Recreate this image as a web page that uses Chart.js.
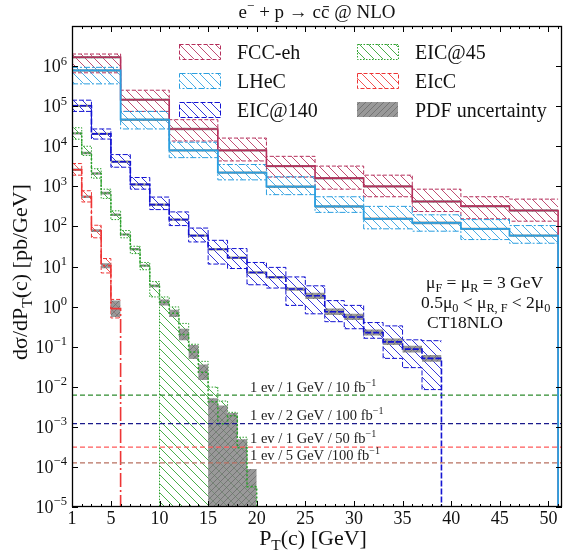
<!DOCTYPE html>
<html><head><meta charset="utf-8">
<script src="https://cdn.jsdelivr.net/npm/chart.js@4.4.1/dist/chart.umd.min.js"></script>
<style>html,body{margin:0;padding:0;background:#fff;overflow:hidden}</style>
</head><body>
<canvas id="c" width="563" height="551" style="width:563px;height:551px;display:block"></canvas>
<script>
// ---------------- DATA ----------------
const fccEdges = [1,6,11,16,21,26,31,36,41,46,51];
const fccCenter = [1.66e6,1.45e5,2.7e4,7.9e3,3.2e3,1.6e3,1.0e3,420,320,250];
const fccScaleHi = [2.0e6,2.5e5,4.6e4,1.6e4,5.6e3,3.2e3,1.9e3,850,550,480];
const fccScaleLo = [6.8e5,7.4e4,1.35e4,4.3e3,1.7e3,850,550,235,155,135];
const fccPdfHi = [1.78e6,1.55e5,2.9e4,8.45e3,3.42e3,1.71e3,1070,450,342,268];
const fccPdfLo = [1.55e6,1.35e5,2.5e4,7.35e3,2.98e3,1.49e3,930,390,298,232];

const lhecEdges = [1,6,11,16,21,26,31,36,41,46,51];
const lhecCenter = [7.8e5,4.6e4,7.9e3,2.2e3,980,316,155,123,87,59];
const lhecScaleHi = [9.3e5,7.4e4,1.26e4,3.5e3,1.74e3,550,316,195,148,105];
const lhecScaleLo = [3.6e5,2.7e4,5.2e3,1.45e3,620,224,87,76,47,38];
const lhecPdfHi = [8.35e5,4.92e4,8.45e3,2.35e3,1050,338,166,132,93,63];
const lhecPdfLo = [7.25e5,4.28e4,7.35e3,2.05e3,910,294,144,114,81,55];

const eic140Edges = [1,3,5,7,9,11,13,15,17,19,21,23,25,27,29,31,33,35,37,39];
const eic140Center = [1.02e5,2.04e4,4.1e3,1.12e3,350,148,59,27,16.6,7.1,5.4,2.75,1.86,0.74,0.55,0.224,0.132,0.087,0.051];
const eic140ScaleHi = [1.41e5,2.7e4,6.2e3,1.66e3,540,230,91,45,28,12.6,9.5,5.5,3.3,1.41,1.07,0.40,0.33,0.148,0.141];
const eic140ScaleLo = [7.4e4,1.51e4,3.0e3,850,263,105,41,11.5,8.9,3.5,2.9,1.07,0.66,0.42,0.28,0.162,0.051,0.030,0.0085];
const eic140PdfHi = [1.09e5,2.18e4,4.4e3,1.2e3,375,158,63,29,17.8,7.6,5.8,3.0,2.2,0.89,0.66,0.27,0.16,0.105,0.062];
const eic140PdfLo = [9.5e4,1.9e4,3.8e3,1.04e3,325,138,55,25,15.4,6.6,5.0,2.5,1.55,0.62,0.46,0.19,0.11,0.072,0.042];

const eic45Edges = [1,2,3,4,5,6,7,8,9,10,11,12,13,14,15,16,17,18,19,20];
const eic45Center = [2.1e4,6.8e3,2.1e3,680,195,63,27,10.5,3.3,1.29,0.68,0.20,0.074,0.023,0.0042,0.0012,0.0019,3.0e-4,3.2e-5];
const eic45ScaleHi = [2.9e4,1.0e4,2.75e3,850,245,79,32,12.6,4.2,1.74,0.98,0.38,0.115,0.043,0.0098,0.0044,0.0023,5.5e-4,3.5e-5];
const eic45ScaleLo = [1.5e4,5.9e3,1.6e3,500,148,52,21,8.3,1.74,1e-7,1e-7,1e-7,1e-7,1e-7,1e-7,1e-7,1e-7,1e-7,1e-7];
const eic45PdfHi = [2.25e4,7.3e3,2.25e3,730,209,67,29,11.2,3.55,1.51,0.83,0.28,0.11,0.036,0.0052,0.0034,0.0022,4.9e-4,8.9e-5];
const eic45PdfLo = [1.95e4,6.3e3,1.95e3,630,181,59,25,9.8,3.05,1.07,0.55,0.145,0.049,0.0148,1e-7,1e-7,1e-7,1e-7,1e-7];

const eiccEdges = [1,2,3,4,5,6];
const eiccCenter = [2.6e3,550,79,10.5,0.89];
const eiccScaleHi = [3.7e3,776,107,15.8,1.51];
const eiccScaleLo = [1.9e3,407,52,6.9,0.52];
const eiccPdfHi = [2.8e3,590,85,12.1,1.41];
const eiccPdfLo = [2.42e3,510,73,9.1,0.55];

const limitValues = [6.2e-3, 1.2e-3, 3.1e-4, 1.26e-4];
const limitLabels = ['1 ev / 1 GeV / 10 fb', '1 ev / 2 GeV / 100 fb', '1 ev / 1 GeV / 50 fb', '1 ev / 5 GeV /100 fb'];

const xTickLabels = [1,5,10,15,20,25,30,35,40,45,50];
const yTickExponents = [-5,-4,-3,-2,-1,0,1,2,3,4,5,6];
const seriesNames = ['FCC-eh','LHeC','EIC@140','EIC@45','EIcC'];

// ---------------- STYLE ----------------
const FONT = '"Liberation Serif","Times New Roman",serif';
const canvas = document.getElementById('c');
const mctx = canvas.getContext('2d');

function hatch(color, dir, bg, s, lw) {
  const c = document.createElement('canvas'); c.width = s; c.height = s;
  const g = c.getContext('2d');
  if (bg) { g.fillStyle = bg; g.fillRect(0,0,s,s); }
  g.strokeStyle = color; g.lineWidth = lw; g.beginPath();
  if (dir === '\\') {
    g.moveTo(-2,-2); g.lineTo(s+2,s+2);
    g.moveTo(-2,s-2); g.lineTo(2,s+2);
    g.moveTo(s-2,-2); g.lineTo(s+2,2);
  } else {
    g.moveTo(-2,s+2); g.lineTo(s+2,-2);
    g.moveTo(-2,2); g.lineTo(2,-2);
    g.moveTo(s-2,s+2); g.lineTo(s+2,s-2);
  }
  g.stroke();
  return mctx.createPattern(c, 'repeat');
}

const styles = [
  {color:'#b5305c', hatchColor:'rgba(181,48,92,0.85)', bandDash:[4,2], lineDash:[], lw:1.6, order:1},
  {color:'#2b9fe0', hatchColor:'rgba(43,159,224,0.85)', bandDash:[6,2,2,2], lineDash:[], lw:1.8, order:0.9},
  {color:'#1414d2', hatchColor:'rgba(20,20,210,0.85)', bandDash:[5,2], lineDash:[6,2], lw:1.6, order:1},
  {color:'#2ca02c', hatchColor:'rgba(44,160,44,0.85)', bandDash:[1.5,1.5], lineDash:[2,2], lw:1.5, order:1},
  {color:'#ee3535', hatchColor:'rgba(238,53,53,0.85)', bandDash:[4,2], lineDash:[14,3,2,3], lw:1.6, order:1}
];
const grayPattern = hatch('rgba(105,105,105,0.75)', '/', 'rgba(130,130,130,0.82)', 6, 1);
const limitColors = ['#2e8b2e', '#1a1a8c', '#ff5a5a', '#b87060'];

const series = [
  {edges:fccEdges, c:fccCenter, hi:fccScaleHi, lo:fccScaleLo, ph:fccPdfHi, pl:fccPdfLo},
  {edges:lhecEdges, c:lhecCenter, hi:lhecScaleHi, lo:lhecScaleLo, ph:lhecPdfHi, pl:lhecPdfLo},
  {edges:eic140Edges, c:eic140Center, hi:eic140ScaleHi, lo:eic140ScaleLo, ph:eic140PdfHi, pl:eic140PdfLo},
  {edges:eic45Edges, c:eic45Center, hi:eic45ScaleHi, lo:eic45ScaleLo, ph:eic45PdfHi, pl:eic45PdfLo},
  {edges:eiccEdges, c:eiccCenter, hi:eiccScaleHi, lo:eiccScaleLo, ph:eiccPdfHi, pl:eiccPdfLo}
];

function stepPts(edges, vals, drop) {
  const pts = vals.map((v,i) => ({x: edges[i], y: v}));
  pts.push({x: edges[edges.length-1], y: vals[vals.length-1]});
  if (drop) pts.push({x: edges[edges.length-1], y: 1e-7});
  return pts;
}

const datasets = [];
const base = {pointRadius:0, pointHoverRadius:0, stepped:'before', tension:0};
limitValues.forEach((v,i) => {
  datasets.push({...base, stepped:false, data:[{x:1,y:v},{x:51.4,y:v}], borderColor:limitColors[i],
    borderWidth:1.2, borderDash:[5,3], fill:false, order:0});
});
series.forEach((s,k) => {
  const st = styles[k];
  const pat = hatch(st.hatchColor, '\\', null, 9, 1);
  datasets.push({...base, data:stepPts(s.edges, s.hi), fill:'+1', backgroundColor:pat,
    borderColor:st.color, borderWidth:1, borderDash:st.bandDash, order:4 + (4-k)*0.01});
  datasets.push({...base, data:stepPts(s.edges, s.lo), fill:false,
    borderColor:st.color, borderWidth:1, borderDash:st.bandDash, order:4 + (4-k)*0.01});
  datasets.push({...base, data:stepPts(s.edges, s.ph), fill:'+1', backgroundColor:grayPattern,
    borderColor:'rgba(0,0,0,0)', borderWidth:0.01, order:2});
  datasets.push({...base, data:stepPts(s.edges, s.pl), fill:false,
    borderColor:'rgba(0,0,0,0)', borderWidth:0.01, order:2});
  datasets.push({...base, data:stepPts(s.edges, s.c, true), fill:false,
    borderColor:st.color, borderWidth:st.lw, borderDash:st.lineDash, order:st.order});
});

// ---------------- TEXT HELPERS ----------------
function richWidth(ctx, parts, size) {
  let w = 0;
  for (const [t, m] of parts) {
    ctx.font = (m ? size*0.7 : size) + 'px ' + FONT;
    w += ctx.measureText(t).width;
  }
  return w;
}
function drawRich(ctx, parts, x, y, size, align) {
  const w = richWidth(ctx, parts, size);
  let cx = align === 'center' ? x - w/2 : (align === 'right' ? x - w : x);
  ctx.textBaseline = 'alphabetic'; ctx.textAlign = 'left';
  for (const [t, m] of parts) {
    const sz = m ? size*0.7 : size;
    ctx.font = sz + 'px ' + FONT;
    const dy = m === 1 ? -size*0.42 : (m === -1 ? size*0.22 : 0);
    ctx.fillText(t, cx, y + dy);
    cx += ctx.measureText(t).width;
  }
}

const deco = {
  id: 'deco',
  afterDatasetsDraw(chart) {
    const {ctx, chartArea: a, scales: {x, y}} = chart;
    ctx.save();
    ctx.strokeStyle = '#000'; ctx.lineWidth = 1; ctx.setLineDash([]);
    ctx.beginPath();
    for (let v = 1; v <= 51; v++) {
      const px = Math.round(x.getPixelForValue(v)) + 0.5;
      const L = xTickLabels.includes(v) ? 6 : 3;
      ctx.moveTo(px, a.bottom); ctx.lineTo(px, a.bottom - L);
      ctx.moveTo(px, a.top); ctx.lineTo(px, a.top + L);
    }
    for (const e of yTickExponents) {
      const py = Math.round(y.getPixelForValue(Math.pow(10, e))) + 0.5;
      ctx.moveTo(a.left, py); ctx.lineTo(a.left + 6, py);
      ctx.moveTo(a.right, py); ctx.lineTo(a.right - 6, py);
    }
    ctx.stroke();
    ctx.lineWidth = 1.3;
    ctx.strokeRect(a.left + 0.5, a.top + 0.5, a.right - a.left - 1, a.bottom - a.top - 1);
    ctx.restore();
  },
  afterDraw(chart) {
    const {ctx, chartArea: a, scales: {x, y}} = chart;
    ctx.save();
    ctx.fillStyle = '#111';
    ctx.font = '18px ' + FONT; ctx.textAlign = 'center'; ctx.textBaseline = 'alphabetic';
    for (const v of xTickLabels) ctx.fillText(String(v), x.getPixelForValue(v), 524);
    for (const e of yTickExponents) {
      const py = y.getPixelForValue(Math.pow(10, e));
      drawRich(ctx, [['10',0],[e < 0 ? '\u2212' + (-e) : String(e),1]], 67, py + 6, 18, 'right');
    }
    drawRich(ctx, [['P',0],['T',-1],['(c) [GeV]',0]], 313, 545, 22, 'center');
    ctx.save(); ctx.translate(27, 272); ctx.rotate(-Math.PI/2);
    drawRich(ctx, [['d\u03c3/dP',0],['T',-1],['(c) [pb/GeV]',0]], 0, 0, 22, 'center');
    ctx.restore();
    drawRich(ctx, [['e',0],['\u2212',1],[' + p \u2192 c',0],['c\u0304',0],[' @ NLO',0]], 317, 18, 19, 'center');
    drawRich(ctx, [['\u03bc',0],['F',-1],[' = \u03bc',0],['R',-1],[' = 3 GeV',0]], 426, 288, 17.5, 'left');
    drawRich(ctx, [['0.5\u03bc',0],['0',-1],[' < \u03bc',0],['R, F',-1],[' < 2\u03bc',0],['0',-1]], 421, 308, 17.5, 'left');
    drawRich(ctx, [['CT18NLO',0]], 427, 328, 17.5, 'left');
    const ly = [392, 420, 443, 460];
    limitLabels.forEach((t,i) => {
      ctx.fillStyle = '#222';
      drawRich(ctx, [[t,0],['\u22121',1]], 250, ly[i], 14.5, 'left');
    });
    const rows = [51.5, 80.5, 109.5];
    const cols = [{bx:179, tx:237}, {bx:357, tx:415}];
    [0,1,2,3,4,5].forEach((k, i) => {
      const col = cols[Math.floor(i/3)], cy = rows[i%3];
      const bx = col.bx, by = cy - 7.5, bw = 41, bh = 15;
      ctx.save();
      if (k < 5) {
        const st = styles[k];
        ctx.fillStyle = hatch(st.hatchColor, '\\', null, 9, 1);
        ctx.fillRect(bx, by, bw, bh);
        ctx.strokeStyle = st.color; ctx.lineWidth = 1; ctx.setLineDash(st.bandDash);
        ctx.strokeRect(bx + 0.5, by + 0.5, bw, bh);
      } else {
        ctx.fillStyle = grayPattern; ctx.fillRect(bx, by, bw, bh);
      }
      ctx.restore();
      ctx.fillStyle = '#111';
      drawRich(ctx, [[k < 5 ? seriesNames[k] : 'PDF uncertainty', 0]], col.tx, cy + 7, 20, 'left');
    });
    ctx.restore();
  }
};

new Chart(canvas, {
  type: 'line',
  data: {datasets},
  options: {
    responsive: false, animation: false, devicePixelRatio: 1,
    layout: {padding: {left: 72, right: 1, top: 26, bottom: 44}},
    plugins: {legend: {display: false}, tooltip: {enabled: false}, filler: {propagate: false}},
    scales: {
      x: {type: 'linear', min: 1, max: 51.4, display: false},
      y: {type: 'logarithmic', min: 1e-5, max: 1e7, display: false}
    },
    elements: {line: {borderCapStyle: 'butt'}}
  },
  plugins: [deco]
});
</script>
</body></html>
